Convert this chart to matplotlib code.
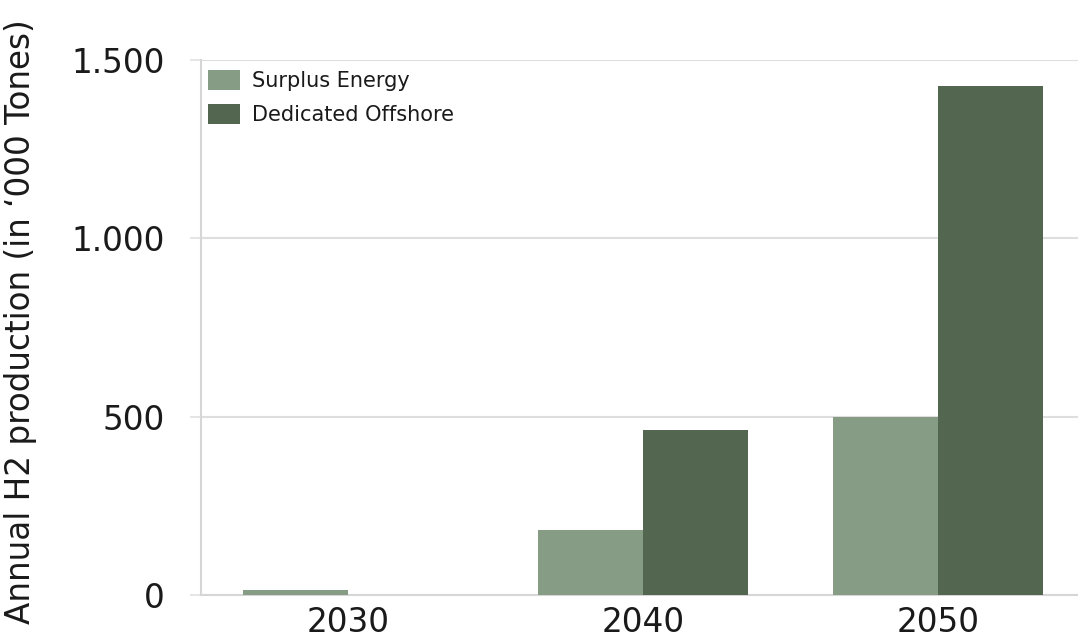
import matplotlib
matplotlib.use("Agg")
import matplotlib.pyplot as plt
from matplotlib.ticker import FuncFormatter
import numpy as np

years = ["2030", "2040", "2050"]
surplus_energy = [14, 183, 498]
dedicated_offshore = [0, 463, 1427]
series_labels = ["Surplus Energy", "Dedicated Offshore"]
y_ticks = [0, 500, 1000, 1500]
y_label = "Annual H2 production (in \u2018000 Tones)"

W, H = 1078, 643
fig = plt.figure(figsize=(W / 100, H / 100), dpi=100)
ax = fig.add_axes([201 / W, 48 / H, 877 / W, 535 / H])

x = np.arange(len(years))
bw = 0.356
c_surplus = "#869c84"
c_dedicated = "#526650"
ax.bar(x - bw / 2, surplus_energy, bw, color=c_surplus, label=series_labels[0], zorder=3)
ax.bar(x + bw / 2, dedicated_offshore, bw, color=c_dedicated, label=series_labels[1], zorder=3)

ax.set_xlim(-0.5, 2.475)
ax.set_ylim(0, 1500)
ax.set_xticks(x)
ax.set_xticklabels(years)
ax.set_yticks(y_ticks)
ax.yaxis.set_major_formatter(FuncFormatter(lambda v, p: f"{int(v):,}".replace(",", ".")))

grid_c = "#dedede"
ax.grid(axis="y", color=grid_c, linewidth=1.5, zorder=0)
ax.set_axisbelow(True)
for s in ["top", "right"]:
    ax.spines[s].set_visible(False)
ax.spines["left"].set_color("#d6d6d6")
ax.spines["left"].set_linewidth(1.5)
ax.spines["bottom"].set_color("#d6d6d6")
ax.spines["bottom"].set_linewidth(1.5)

ax.tick_params(axis="y", length=8, width=1.1, color=grid_c, pad=18, labelsize=23.5, labelcolor="#1a1a1a")
ax.tick_params(axis="x", length=0, pad=8, labelsize=23.5, labelcolor="#1a1a1a")

ax.set_ylabel(y_label, fontsize=23.5, color="#1a1a1a")
ax.yaxis.label.set_va("center")
ax.yaxis.set_label_coords(21 / W, 0.5, transform=fig.transFigure)

leg = ax.legend(loc="upper left", bbox_to_anchor=(0.008, 0.982), frameon=False,
                fontsize=15, handlelength=1.54, handleheight=1.1, handletextpad=0.58,
                labelspacing=0.65, borderpad=0, borderaxespad=0)
for t in leg.get_texts():
    t.set_color("#1a1a1a")

fig.savefig("out.png", dpi=100)
